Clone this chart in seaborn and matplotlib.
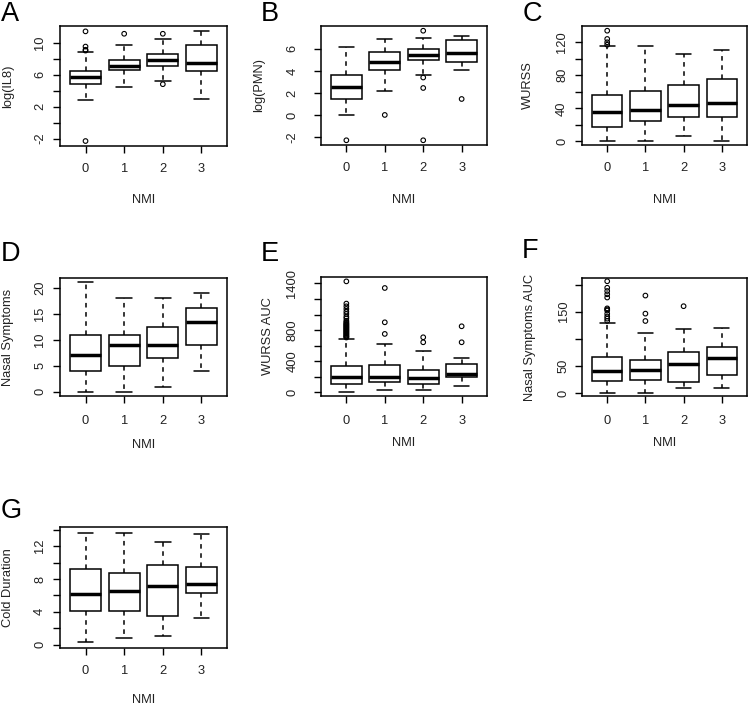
import matplotlib
matplotlib.use("Agg")
import pandas as pd
import matplotlib.pyplot as plt
import seaborn as sns

sns.set_theme(style="ticks")
plt.rcParams['font.family'] = ['Liberation Sans', 'DejaVu Sans']

NMI_LEVELS = [0, 1, 2, 3]

# five-number summary per NMI group: [low whisker, Q1, median, Q3, high whisker]
IL8_STATS = [[2.8, 4.8, 5.7, 6.4, 8.8],
             [4.45, 6.55, 7.05, 7.85, 9.75],
             [5.2, 7.05, 7.8, 8.55, 10.4],
             [2.9, 6.4, 7.45, 9.75, 11.4]]
IL8_OUTLIERS = [[11.4, 9.5, 9.1, 9.0, -2.3], [11.1], [11.1, 4.8], []]

PMN_STATS = [[0.0, 1.43, 2.5, 3.6, 6.2],
             [2.2, 4.1, 4.8, 5.7, 6.9],
             [3.65, 4.95, 5.45, 5.95, 6.95],
             [4.1, 4.85, 5.65, 6.8, 7.15]]
PMN_OUTLIERS = [[-2.3], [0.0], [7.65, 3.4, 2.45, -2.3], [1.45]]

WURSS_STATS = [[0, 18, 36, 56.5, 115],
               [1, 25, 38, 61.5, 115],
               [7, 30, 44, 68.5, 105.5],
               [0, 29.5, 47, 76, 111]]
WURSS_OUTLIERS = [[134, 124, 120, 117], [], [], []]

NASAL_STATS = [[0, 4, 7, 11, 21],
               [0, 5, 9, 11, 18],
               [1, 6.5, 9, 12.5, 18],
               [4, 9, 13.5, 16, 19]]
NASAL_OUTLIERS = [[], [], [], []]

WAUC_STATS = [[4, 107, 205, 341, 683],
              [30, 132, 205, 354, 619],
              [30, 115, 192, 294, 533],
              [81, 200, 239, 367, 448]]
WAUC_OUTLIERS = [[1425, 1140, 1105, 1071, 1037, 1007, 973, 950, 920, 905, 890,
                  880, 870, 860, 850, 840, 830, 820, 810, 800, 790, 780, 770,
                  760, 750, 740, 730, 720, 712, 705],
                 [1340, 900, 751], [708, 644], [849, 644]]

NAUC_STATS = [[0, 22, 40.7, 65.4, 129],
              [0, 24, 42.6, 60.5, 110.5],
              [10, 20.4, 53, 75.3, 117.3],
              [10, 32.7, 64, 84, 120]]
NAUC_OUTLIERS = [[206, 194, 188, 182, 176, 156, 154, 152, 146, 141, 137, 133],
                 [179.6, 146.3, 132.7], [160], []]

COLD_STATS = [[0.3, 4.15, 6.15, 9.25, 13.65],
              [0.85, 4.15, 6.5, 8.7, 13.65],
              [1.0, 3.45, 7.2, 9.7, 12.55],
              [3.25, 6.25, 7.45, 9.5, 13.5]]
COLD_OUTLIERS = [[], [], [], []]

# y axis ticks and which of them carry a label
IL8_TICKS, IL8_LABELS = [-2, 0, 2, 4, 6, 8, 10], ['-2', '', '2', '', '6', '', '10']
PMN_TICKS, PMN_LABELS = [-2, 0, 2, 4, 6], ['-2', '0', '2', '4', '6']
WURSS_TICKS, WURSS_LABELS = [0, 20, 40, 60, 80, 100, 120], ['0', '', '40', '', '80', '', '120']
NASAL_TICKS, NASAL_LABELS = [0, 5, 10, 15, 20], ['0', '5', '10', '15', '20']
WAUC_TICKS = [0, 200, 400, 600, 800, 1000, 1200, 1400]
WAUC_LABELS = ['0', '', '400', '', '800', '', '', '1400']
NAUC_TICKS, NAUC_LABELS = [0, 50, 100, 150, 200], ['0', '50', '', '150', '']
COLD_TICKS, COLD_LABELS = [0, 2, 4, 6, 8, 10, 12, 14], ['0', '', '4', '', '8', '', '12', '']

W, H = 750, 710
TXT = '#222222'
FS = 9.3

# letter, ylabel, stats, outliers, ticks, labels, ylim, box px (l, t, r, b),
# ytick pad, ylabel x (axes frac), xlabel y (axes frac), xtick pad, letter px pos
panels = [
    ('A', 'log(IL8)', IL8_STATS, IL8_OUTLIERS, IL8_TICKS, IL8_LABELS, (-2.92, 12.07),
     (60, 26, 227, 146), 5.0, -0.31, -0.45, 7.2, (1, 1)),
    ('B', 'log(PMN)', PMN_STATS, PMN_OUTLIERS, PMN_TICKS, PMN_LABELS, (-2.73, 8.08),
     (321, 26, 487, 145), 11.2, -0.373, -0.462, 7.2, (261, 1)),
    ('C', 'WURSS', WURSS_STATS, WURSS_OUTLIERS, WURSS_TICKS, WURSS_LABELS, (-4.4, 139.7),
     (582, 26, 747, 145), 5.0, -0.325, -0.462, 7.2, (523, 1)),
    ('D', 'Nasal Symptoms', NASAL_STATS, NASAL_OUTLIERS, NASAL_TICKS, NASAL_LABELS, (-0.8, 21.85),
     (60, 278, 227, 396), 5.0, -0.31, -0.415, 9.0, (1, 241)),
    ('E', 'WURSS AUC', WAUC_STATS, WAUC_OUTLIERS, WAUC_TICKS, WAUC_LABELS, (-45, 1481),
     (321, 277, 487, 396), 11.2, -0.317, -0.395, 9.0, (261, 241)),
    ('F', 'Nasal Symptoms AUC', NAUC_STATS, NAUC_OUTLIERS, NAUC_TICKS, NAUC_LABELS, (-5.6, 212),
     (582, 278, 747, 396), 3.8, -0.315, -0.398, 9.0, (522, 238)),
    ('G', 'Cold Duration', COLD_STATS, COLD_OUTLIERS, COLD_TICKS, COLD_LABELS, (-0.4, 14.33),
     (60, 527, 227, 648), 5.0, -0.31, -0.43, 7.2, (1, 498)),
]

fig = plt.figure(figsize=(W / 100, H / 100), dpi=100)
fig.patch.set_facecolor('white')

for (letter, ylab, stats, outliers, ticks, labels, ylim, box,
     ypad, ylab_x, xlab_y, xpad, lpos) in panels:
    l, t, r, b = box
    ax = fig.add_axes([l / W, 1 - b / H, (r - l) / W, (b - t) / H])

    df = pd.DataFrame([(g, v) for g, st in zip(NMI_LEVELS, stats) for v in st],
                      columns=['NMI', 'value'])
    sns.boxplot(data=df, x='NMI', y='value', order=NMI_LEVELS, whis=(0, 100),
                width=0.8, color='white', saturation=1, linecolor='black',
                linewidth=1.1, showfliers=False, ax=ax,
                whiskerprops=dict(linestyle=(0, (3, 3))),
                medianprops=dict(linewidth=2.5, color='black', solid_capstyle='butt'))

    out = pd.DataFrame([(i, v) for i, vals in enumerate(outliers) for v in vals],
                       columns=['pos', 'value'])
    if len(out):
        sns.scatterplot(data=out, x='pos', y='value', marker='o', s=11,
                        facecolor='none', edgecolor='black', linewidth=0.8,
                        ax=ax, zorder=4, legend=False)

    ax.set_xlim(-0.66, 3.66)
    ax.set_ylim(*ylim)
    ax.set_xticks(range(len(NMI_LEVELS)))
    ax.set_xticklabels([str(n) for n in NMI_LEVELS])
    ax.set_yticks(ticks)
    ax.set_yticklabels(labels, rotation=90, va='center')
    ax.tick_params(axis='both', direction='out', length=5, width=1.0, color='black',
                   labelsize=FS, labelcolor=TXT)
    ax.tick_params(axis='y', pad=ypad)
    ax.tick_params(axis='x', pad=xpad)
    for s in ax.spines.values():
        s.set_color('black')
        s.set_linewidth(1.1)

    ax.set_xlabel('NMI', fontsize=FS, color=TXT, va='center')
    ax.xaxis.set_label_coords(0.5, xlab_y)
    ax.set_ylabel(ylab, fontsize=FS, color=TXT, va='center')
    ax.yaxis.set_label_coords(ylab_x, 0.5)

    fig.text(lpos[0] / W, 1 - lpos[1] / H, letter, fontsize=19.5,
             ha='left', va='top', color='black')

fig.savefig('out.png', dpi=100)
